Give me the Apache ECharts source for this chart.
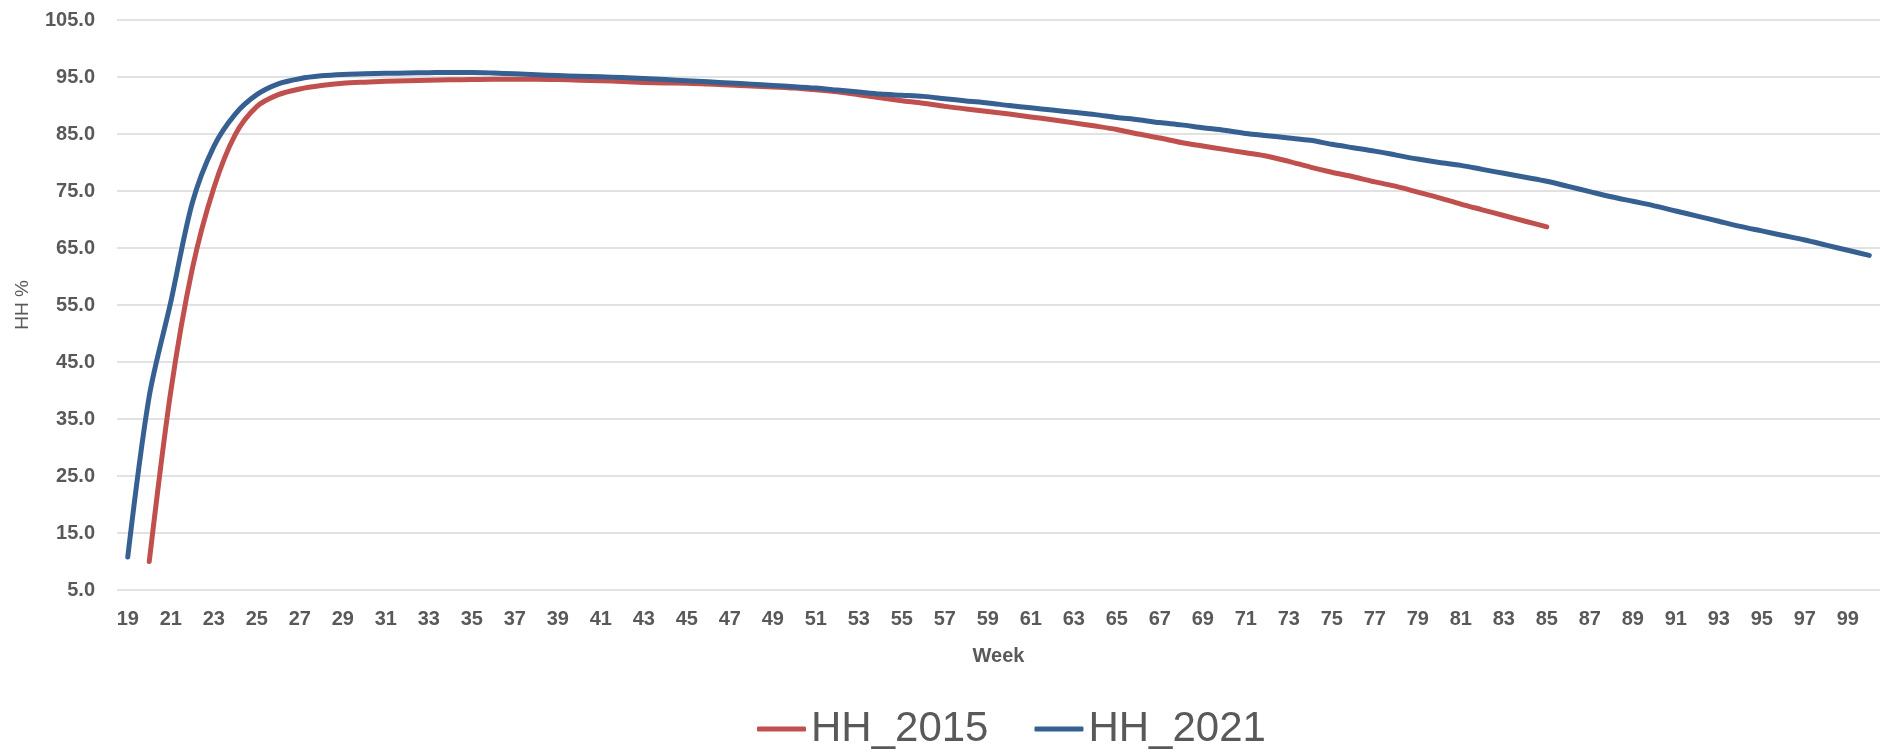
<!DOCTYPE html>
<html>
<head>
<meta charset="utf-8">
<title>HH %</title>
<script src="https://cdn.jsdelivr.net/npm/echarts@6/dist/echarts.min.js"></script>
<style>
  html, body { margin: 0; padding: 0; background: #fff; }
  #chart { width: 1883px; height: 752px; }
</style>
</head>
<body>
<div id="chart"></div>
<script>
// weeks 19..100
const weeks = []
for (let w = 19; w <= 100; w++) weeks.push(String(w))

// HH_2015 starts at week 20, ends at week 85
const hh2015 = [
  null, 10.0, 39.8, 61.3, 75.5, 84.9, 89.8, 91.9, 92.9, 93.5,
  93.9, 94.1, 94.25, 94.35, 94.45, 94.5, 94.55, 94.6, 94.6, 94.6,
  94.55, 94.45, 94.35, 94.2, 94.05, 93.95, 93.9, 93.75, 93.6, 93.4,
  93.25, 93.05, 92.75, 92.4, 91.9, 91.35, 90.85, 90.4, 89.85, 89.4,
  88.95, 88.5, 88.0, 87.5, 86.95, 86.4, 85.8, 85.0, 84.3, 83.5,
  82.9, 82.3, 81.7, 81.1, 80.2, 79.2, 78.3, 77.5, 76.6, 75.8,
  74.8, 73.8, 72.7, 71.7, 70.7, 69.7, 68.7,
  null, null, null, null, null, null, null, null, null, null,
  null, null, null, null, null
]

const hh2021 = [
  10.8, 39.0, 55.5, 72.9, 82.8, 88.5, 91.9, 93.8, 94.7, 95.2,
  95.45, 95.55, 95.65, 95.7, 95.75, 95.8, 95.8, 95.7, 95.55, 95.4,
  95.25, 95.15, 95.05, 94.9, 94.75, 94.55, 94.35, 94.15, 93.95, 93.75,
  93.5, 93.3, 93.05, 92.7, 92.35, 92.0, 91.8, 91.6, 91.2, 90.8,
  90.45, 90.0, 89.6, 89.2, 88.8, 88.4, 87.9, 87.5, 87.0, 86.6,
  86.1, 85.65, 85.1, 84.7, 84.3, 83.9, 83.2, 82.6, 82.0, 81.3,
  80.6, 80.0, 79.5, 78.8, 78.1, 77.4, 76.7, 75.8, 74.9, 74.0,
  73.2, 72.4, 71.5, 70.6, 69.7, 68.8, 68.0, 67.2, 66.4, 65.5,
  64.6, 63.7
]

const chart = echarts.init(document.getElementById('chart'))

const labelColor = '#595959'
const font = 'Liberation Sans, Arial, sans-serif'

const option = {
  animation: false,
  grid: {
    left: 117,
    right: 3,
    top: 20,
    bottom: 162
  },
  legend: {
    data: ['HH_2015', 'HH_2021'],
    left: 752,
    top: 703,
    icon: 'roundRect',
    itemWidth: 49,
    itemHeight: 5,
    itemGap: 46,
    textStyle: {
      fontFamily: font,
      fontSize: 42,
      color: labelColor
    }
  },
  xAxis: {
    type: 'category',
    data: weeks,
    boundaryGap: true,
    name: 'Week',
    nameLocation: 'middle',
    nameGap: 56,
    nameTextStyle: {
      fontFamily: font,
      fontSize: 20,
      fontWeight: 'bold',
      color: labelColor
    },
    axisLine: { show: false },
    axisTick: { show: false },
    axisLabel: {
      interval: 1,
      margin: 19,
      fontFamily: font,
      fontSize: 20,
      fontWeight: 'bold',
      color: labelColor
    }
  },
  yAxis: {
    type: 'value',
    min: 5,
    max: 105,
    interval: 10,
    name: 'HH %',
    nameLocation: 'middle',
    nameGap: 85,
    nameTextStyle: {
      fontFamily: font,
      fontSize: 19,
      color: labelColor
    },
    axisLine: { show: false },
    axisTick: { show: false },
    axisLabel: {
      margin: 22,
      fontFamily: font,
      fontSize: 20,
      fontWeight: 'bold',
      color: labelColor,
      formatter: v => v.toFixed(1)
    },
    splitLine: {
      lineStyle: { color: '#D9D9D9', width: 1.5 }
    }
  },
  series: [
    {
      name: 'HH_2015',
      type: 'line',
      data: hh2015,
      smooth: 0.3,
      symbol: 'none',
      connectNulls: false,
      lineStyle: { color: '#C0504D', width: 5, cap: 'round', join: 'round' },
      itemStyle: { color: '#C0504D' }
    },
    {
      name: 'HH_2021',
      type: 'line',
      data: hh2021,
      smooth: 0.3,
      symbol: 'none',
      lineStyle: { color: '#376092', width: 5, cap: 'round', join: 'round' },
      itemStyle: { color: '#376092' }
    }
  ]
}

chart.setOption(option)
</script>
</body>
</html>
